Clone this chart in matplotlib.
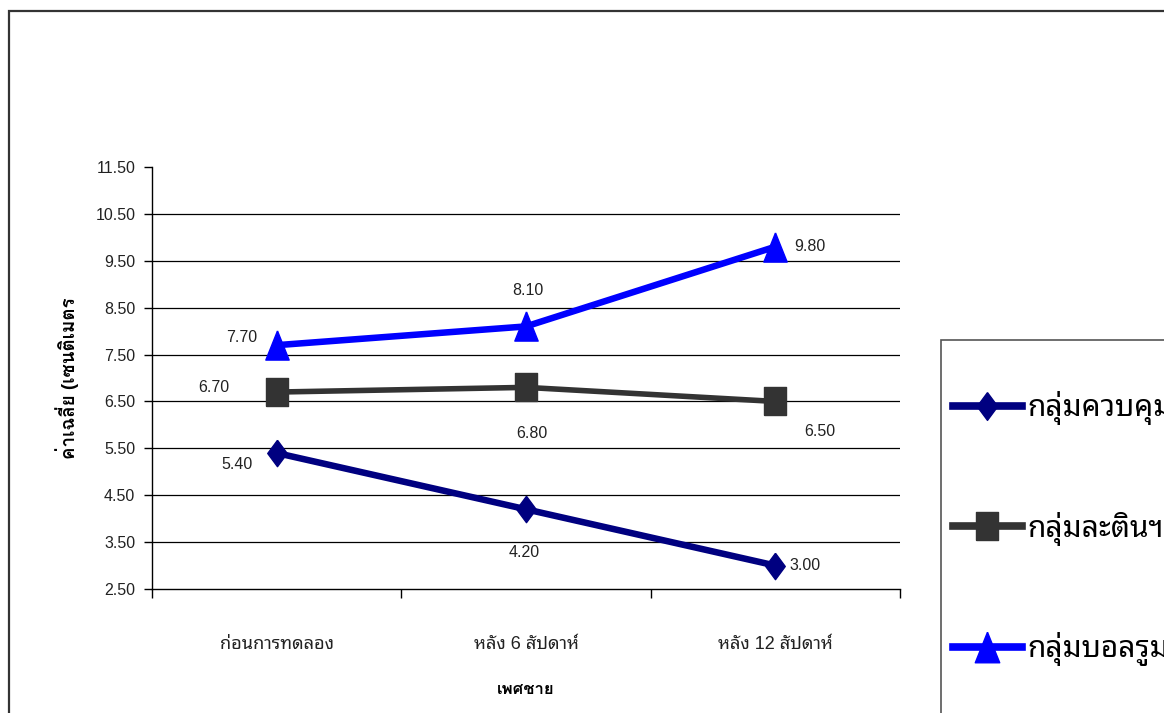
import matplotlib
matplotlib.use("Agg")
import matplotlib.pyplot as plt
from matplotlib.lines import Line2D
from matplotlib.patches import Rectangle

# mean values per group, three measurement points
periods = ["ก่อนการทดลอง", "หลัง 6 สัปดาห์", "หลัง 12 สัปดาห์"]
groups = ["กลุ่มควบคุม", "กลุ่มละตินฯ", "กลุ่มบอลรูม"]
control = [5.40, 4.20, 3.00]
latin = [6.70, 6.80, 6.50]
ballroom = [7.70, 8.10, 9.80]
yticks = [2.5, 3.5, 4.5, 5.5, 6.5, 7.5, 8.5, 9.5, 10.5, 11.5]

THAI = ["Liberation Sans", "Noto Sans Thai Looped", "DejaVu Sans"]
THAI_BOLD = ["Liberation Sans", "Loma", "Noto Sans Thai Looped", "DejaVu Sans"]
plt.rcParams["font.family"] = THAI

W, H = 1164, 713

# markers look a little taller than wide
diamond = [(0, 1), (0.74, 0), (0, -1), (-0.74, 0), (0, 1)]
square = [(-0.78, -1), (0.78, -1), (0.78, 1), (-0.78, 1), (-0.78, -1)]
triangle = [(0, 1), (0.8, -1), (-0.8, -1), (0, 1)]

styles = [
    dict(color="#000080", marker=diamond, ms=19, lw=4.7),
    dict(color="#333333", marker=square, ms=19.5, lw=4.0),
    dict(color="#0000FF", marker=triangle, ms=21, lw=4.7),
]
# label offsets in pixels (dx, dy)
offsets = [
    [(-40, -11), (-2, -43), (30, 0)],
    [(-63, 5), (6, -46), (44, -30)],
    [(-35, 8), (2, 36), (35, 0)],
]

fig = plt.figure(figsize=(W / 100, H / 100), dpi=100)
ax = fig.add_axes([152 / W, 124 / H, 748 / W, 422 / H])

x = range(len(periods))
series = [control, latin, ballroom]
for vals, st, offs in zip(series, styles, offsets):
    ax.plot(x, vals, color=st["color"], lw=st["lw"], marker=st["marker"],
            ms=st["ms"], mfc=st["color"], mec=st["color"], zorder=3,
            solid_joinstyle="miter", clip_on=False)
    for xi, v, (dx, dy) in zip(x, vals, offs):
        ax.annotate(f"{v:.2f}", (xi, v), xytext=(dx, dy), textcoords="offset pixels",
                    ha="center", va="center", fontsize=11.5, color="#222222")

for y in yticks[1:-1]:
    ax.axhline(y, color="black", lw=0.9, zorder=1)

ax.set_ylim(2.5, 11.5)
ax.set_xlim(-0.5, 2.5)
ax.set_yticks(yticks)
ax.set_yticklabels([f"{t:.2f}" for t in yticks])
ax.set_xticks([-0.5, 0.5, 1.5, 2.5])
ax.set_xticklabels([])
ax.set_xticks(list(x), minor=True)
ax.set_xticklabels(periods, minor=True, fontsize=13, color="#222222")
ax.tick_params(axis="x", which="minor", length=0, pad=34)
ax.tick_params(axis="x", which="major", length=6.5, direction="out", width=1)
ax.tick_params(axis="y", length=6, width=1, labelsize=11.5, labelcolor="#222222", pad=6)
for side in ["top", "right"]:
    ax.spines[side].set_visible(False)
ax.spines["left"].set_linewidth(1)
ax.spines["bottom"].set_linewidth(1)

ax.set_ylabel("ค่าเฉลี่ย (เซนติเมตร", fontsize=13.5, fontweight="bold", family=THAI_BOLD)
ax.yaxis.set_label_coords((67 - 152) / 748, 0.5)
ax.yaxis.label.set_va("center")
ax.set_xlabel("เพศชาย", fontsize=12, fontweight="bold", family=THAI_BOLD)
ax.xaxis.set_label_coords(0.5, (H - 690 - 124) / 422)
ax.xaxis.label.set_va("center")

# legend, runs past the right and bottom edges
handles = [Line2D([0], [0], color=st["color"], lw=5.5, marker=st["marker"],
                  ms=st["ms"] + 1, mfc=st["color"], mec=st["color"]) for st in styles]
leg = fig.legend(handles, groups, loc="upper left", bbox_to_anchor=(953 / W, 1 - 391 / H),
                 fontsize=21.5, frameon=False, handlelength=2.3, handletextpad=0.2,
                 labelspacing=2.9, borderpad=0, borderaxespad=0)
fig.patches.append(Rectangle((941 / W, -0.1), 0.2, 1 - 340 / H + 0.1, transform=fig.transFigure,
                             fill=False, edgecolor="#555555", lw=1.2, zorder=0))

# outer frame
fig.patches.append(Rectangle((9 / W, -0.1), 1.2, 1 - 11 / H + 0.1, transform=fig.transFigure,
                             fill=False, edgecolor="#333333", lw=1.6, zorder=0))

fig.savefig("out.png", dpi=100)
